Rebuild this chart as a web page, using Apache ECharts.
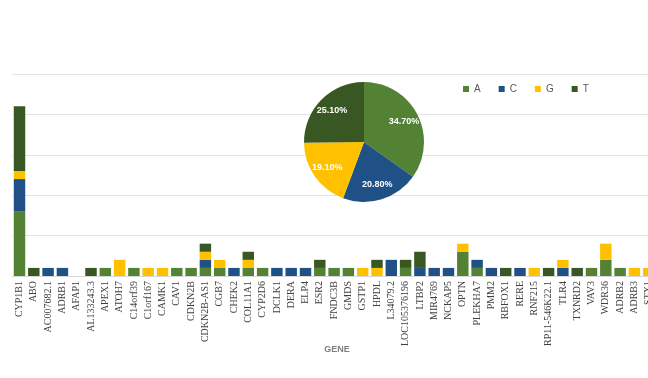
<!DOCTYPE html>
<html>
<head>
<meta charset="utf-8">
<script src="https://cdn.jsdelivr.net/npm/echarts@6/dist/echarts.min.js"></script>
<style>html,body{margin:0;padding:0;background:#fff;overflow:hidden;width:648px;height:378px;}#c{width:660px;height:378px;}</style>
</head>
<body>
<div id="c"></div>
<script>
var genes = ['CYP1B1','ABO','AC007682.1','ADRB1','AFAP1','AL133243.3','APEX1','ATOH7','C14orf39','C1orf167',
  'CAMK1','CAV1','CDKN2B','CDKN2B-AS1','CGB7','CHEK2','COL11A1','CYP2D6','DCLK1','DERA',
  'ELP4','ESR2','FNDC3B','GMDS','GSTP1','HPDL','L34079.2','LOC105376196','LTBP2','MIR4769',
  'NCKAP5','OPTN','PLEKHA7','PMM2','RBFOX1','RERE','RNF215','RP11-546K22.1','TLR4','TXNRD2',
  'VAV3','WDR36','ADRB2','ADRB3','STX1'];
var valuesA = [8,0,0,0,0,0,1,0,1,0, 0,1,1,1,1,0,1,1,0,0, 0,1,1,1,0,0,0,1,0,0, 0,3,1,0,0,0,0,0,0,0, 1,2,1,0,0];
var valuesC = [4,0,1,1,0,0,0,0,0,0, 0,0,0,1,0,1,0,0,1,1, 1,0,0,0,0,0,2,0,1,1, 1,0,1,1,0,1,0,0,1,0, 0,0,0,0,0];
var valuesG = [1,0,0,0,0,0,0,2,0,1, 1,0,0,1,1,0,1,0,0,0, 0,0,0,0,1,1,0,0,0,0, 0,1,0,0,0,0,1,0,1,0, 0,2,0,1,1];
var valuesT = [8,1,0,0,0,1,0,0,0,0, 0,0,0,1,0,0,1,0,0,0, 0,1,0,0,0,1,0,1,2,0, 0,0,0,0,1,0,0,1,0,1, 0,0,0,0,0];
var pieNames = ['A','C','G','T'];
var piePercent = [34.7, 20.8, 19.1, 25.1];
var colors = {A:'#548235', C:'#1f5186', G:'#ffc000', T:'#385723'};

var chart = echarts.init(document.getElementById('c'));
var seriesVals = {A:valuesA, C:valuesC, G:valuesG, T:valuesT};
var barSeries = pieNames.map(function(n){
  return {name:n, type:'bar', stack:'s', data:seriesVals[n], barCategoryGap:'20%',
    itemStyle:{color:colors[n]}};
});
var pieData = pieNames.map(function(n,i){ return {name:n, value:piePercent[i], itemStyle:{color:colors[n]}}; });
var pieLabelData = pieNames.map(function(n,i){ return {name:n, value:piePercent[i], itemStyle:{color:'transparent'}}; });

chart.setOption({
  animation:false,
  grid:{left:12.35, width:643.5, top:74, height:202},
  legend:{data:pieNames, left:458, top:79, itemWidth:6, itemHeight:6, itemGap:18, icon:'rect',
    textStyle:{fontSize:10, color:'#595959', fontFamily:'Liberation Sans'}},
  xAxis:{type:'category', data:genes,
    axisLine:{lineStyle:{color:'#d9d9d9'}}, axisTick:{show:false},
    axisLabel:{interval:0, rotate:90, fontSize:10, fontFamily:'Liberation Serif', color:'#404040', margin:5}},
  yAxis:{type:'value', min:0, max:25, interval:5, axisLabel:{show:false}, axisLine:{show:false}, axisTick:{show:false},
    splitLine:{lineStyle:{color:'#e3e3e3'}}},
  graphic:[{type:'text', x:337, y:345, style:{text:'GENE', fill:'#7f7f7f', font:'bold 9px "Liberation Sans"', align:'center'}}],
  series: barSeries.concat([
    {type:'pie', center:[364,142], radius:60, startAngle:90, clockwise:true, data:pieData, label:{show:false}, labelLine:{show:false}, silent:true, z:5},
    {type:'pie', center:[364,142], radius:[24,60], startAngle:90, clockwise:true, data:pieLabelData, silent:true, z:6,
      label:{show:true, position:'inside', formatter:function(p){return p.value.toFixed(2)+'%';}, color:'#fff', fontWeight:'bold', fontSize:9, fontFamily:'Liberation Sans'},
      labelLine:{show:false}, emphasis:{disabled:true}}
  ])
});
</script>
</body>
</html>
